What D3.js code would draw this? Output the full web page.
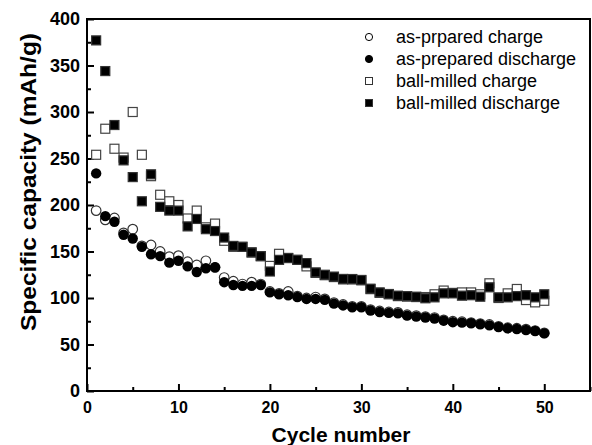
<!DOCTYPE html>
<html>
<head>
<meta charset="utf-8">
<script src="https://cdn.jsdelivr.net/npm/d3@7"></script>
<style>
  body { margin: 0; background: #fff; }
  text { font-family: "Liberation Sans", Arial, sans-serif; }
</style>
</head>
<body>
<div id="chart"></div>
<script>
// cycle numbers 1..50
var cycles = [1,2,3,4,5,6,7,8,9,10,11,12,13,14,15,16,17,18,19,20,21,22,23,24,25,
  26,27,28,29,30,31,32,33,34,35,36,37,38,39,40,41,42,43,44,45,46,47,48,49,50];

var asCharge = [194,184,186,170,174,156,157,150,144.5,145.5,139,135.5,140,133,122,118,115,117,115,107,
  105,107,102,100,101,99,95,93,91,91,87.5,86,85,84.5,82,81,80,79,76.5,75,
  74.5,73.5,72.5,71.5,69.5,68,67.5,66.5,65,62.5];
var asDischarge = [234,188,182,168,164,155,147,145,138,140,134,128,132,133,117,114,113,113,114,106,
  104,103,101,99,99,98,94,92,90,90,86.5,85,84,83.5,81,80,79,78,75.6,74,
  73.5,72.8,71.7,70.6,68.8,67.4,66.7,65.6,64.5,62];
var bmCharge = [254,282,260.5,251,300,254,231,211,204,200,185.5,194,176,180,161.5,155,155,149,145,134.5,
  147.5,143,141,134,127,124.5,122.5,120,120,119,109.5,105.5,104,102,101.5,101,101,104,108,105.5,
  106,106,104,115.8,100,105,109.7,97.8,95.3,97];
var bmDischarge = [377,344,286,248,230,204,233,198,194,194,177,185,174,172,165,156,155,149,145,128.5,
  141,143,141,137.5,127.5,125,123,120.5,120.4,119.4,110,106,104.3,102.5,102,101.4,99.7,100.7,105,105,
  102.5,103,101.4,111.5,100.7,100.7,102,103,100.7,104];

var legendLabels = ["as-prpared charge", "as-prepared discharge", "ball-milled charge", "ball-milled discharge"];
var xMajor = [0,10,20,30,40,50];
var xMinor = [5,15,25,35,45,55];
var yMajor = [0,50,100,150,200,250,300,350,400];
var yMinor = [25,75,125,175,225,275,325,375];

var width = 592, height = 445,
  margin = {top: 19, right: 2, bottom: 54, left: 87},
  w = width - margin.left - margin.right,
  h = height - margin.top - margin.bottom;

var svg = d3.select("#chart").append("svg")
  .attr("width", width)
  .attr("height", height);

var g = svg.append("g")
  .attr("transform", "translate(" + margin.left + "," + margin.top + ")");

var x = d3.scaleLinear().domain([0, 55]).range([0, w]);
var y = d3.scaleLinear().domain([0, 400]).range([h, 0]);

// axes, ticks pointing inward
g.append("g").attr("class", "xa").attr("transform", "translate(0," + h + ")")
  .call(d3.axisBottom(x).tickValues(xMajor).tickSize(-7).tickPadding(11).tickFormat(d3.format("d")));
g.append("g").attr("transform", "translate(0," + h + ")")
  .call(d3.axisBottom(x).tickValues(xMinor).tickSize(-4).tickFormat(""));
g.append("g").attr("class", "ya")
  .call(d3.axisLeft(y).tickValues(yMajor).tickSize(-7).tickPadding(7).tickFormat(d3.format("d")));
g.append("g")
  .call(d3.axisLeft(y).tickValues(yMinor).tickSize(-4).tickFormat(""));

g.selectAll(".domain").remove();
g.selectAll(".tick line").attr("stroke", "#000").attr("stroke-width", 2);
g.selectAll(".tick text")
  .attr("fill", "#000")
  .style("font-weight", "bold");
g.selectAll(".xa .tick text").style("font-size", "16px");
g.selectAll(".ya .tick text").style("font-size", "18px");

g.append("rect")
  .attr("width", w).attr("height", h)
  .attr("fill", "none").attr("stroke", "#000").attr("stroke-width", 2);

// markers
var sq = 9, r = 4.8;
function circles(vals, filled) {
  g.append("g").selectAll("circle").data(vals).enter().append("circle")
    .attr("cx", function(d, i) { return x(cycles[i]); })
    .attr("cy", function(d) { return y(d); })
    .attr("r", filled ? r + 0.4 : r)
    .attr("fill", filled ? "#000" : "#fff")
    .attr("stroke", filled ? "none" : "#333")
    .attr("stroke-width", 1.2);
}
function squares(vals, filled) {
  g.append("g").selectAll("rect").data(vals).enter().append("rect")
    .attr("x", function(d, i) { return x(cycles[i]) - sq / 2; })
    .attr("y", function(d) { return y(d) - sq / 2; })
    .attr("width", sq).attr("height", sq)
    .attr("fill", filled ? "#000" : "#fff")
    .attr("stroke", filled ? "#333" : "#444")
    .attr("stroke-width", 1.2);
}
circles(asCharge, false);
circles(asDischarge, true);
squares(bmCharge, false);
squares(bmDischarge, true);

// legend
var leg = svg.append("g").attr("transform", "translate(369,37)");
legendLabels.forEach(function(t, i) {
  var row = leg.append("g").attr("transform", "translate(0," + (i * 22) + ")");
  if (i < 2) {
    row.append("circle").attr("r", 3.6)
      .attr("fill", i == 1 ? "#000" : "#fff")
      .attr("stroke", "#000").attr("stroke-width", 1);
  } else {
    row.append("rect").attr("x", -3.5).attr("y", -3.5).attr("width", 7).attr("height", 7)
      .attr("fill", i == 3 ? "#000" : "#fff")
      .attr("stroke", "#333").attr("stroke-width", 1);
  }
  row.append("text").attr("x", 27).attr("y", 6)
    .style("font-size", "18px")
    .text(t);
});

// axis titles
svg.append("text")
  .attr("x", 341).attr("y", 441.5)
  .attr("text-anchor", "middle")
  .style("font-size", "21px").style("font-weight", "bold")
  .text("Cycle number");
svg.append("text")
  .attr("transform", "translate(36,182) rotate(-90)")
  .attr("text-anchor", "middle")
  .attr("textLength", 298).attr("lengthAdjust", "spacingAndGlyphs")
  .style("font-size", "22px").style("font-weight", "bold")
  .text("Specific capacity (mAh/g)");
</script>
</body>
</html>
